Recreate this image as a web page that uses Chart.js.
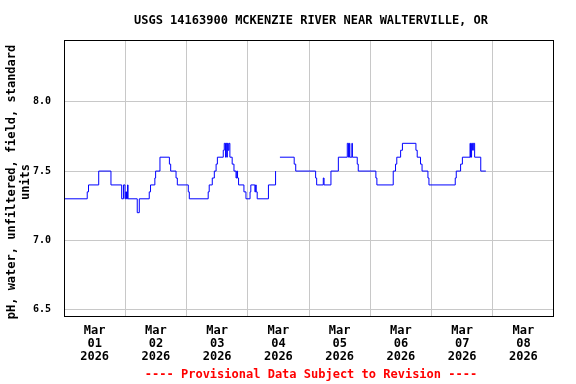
<!DOCTYPE html>
<html>
<head>
<meta charset="utf-8">
<script src="https://cdn.jsdelivr.net/npm/chart.js@4.4.1/dist/chart.umd.min.js"></script>
<style>
  html, body { margin: 0; padding: 0; background: #fff; }
</style>
</head>
<body>
<canvas id="chart" width="576" height="384"></canvas>
<script>
// Chart text
const titleText = 'USGS 14163900 MCKENZIE RIVER NEAR WALTERVILLE, OR';
const yTitleLines = ['pH, water, unfiltered, field, standard', 'units'];
const footerText = '---- Provisional Data Subject to Revision ----';

// X axis: hours since Mar 01 00:00, labels at noon, grid at midnight
const dayLabels = ['01', '02', '03', '04', '05', '06', '07', '08'];
const monthLabel = 'Mar';
const yearLabel = '2026';
const labelHours = [12, 36, 60, 84, 108, 132, 156, 180];
const gridHours = [24, 48, 72, 96, 120, 144, 168];

// Y axis ticks
const yTicks = [6.5, 7.0, 7.5, 8.0];

// pH readings (change points), hours since Mar 01 00:00; null = gap in record
const hours = [
  0, 9.1, 9.6, 13.6, 18.4, 22.6, 23.3, 23.9, 24.2, 24.5, 24.9, 25.1,
  28.7, 29.5, 33.4, 33.9, 35.6, 35.9, 37.6, 41.3, 41.8, 43.9, 44.4,
  48.7, 49.1, 56.5, 56.9, 58.1, 58.9, 59.6, 60.1, 62.4, 62.8, 63.3, 63.5,
  63.8, 64.0, 64.3, 64.6, 65.0, 65.9, 66.6, 67.4, 67.7, 68.0, 68.4,
  70.5, 71.3, 72.9, 73.2, 74.8, 75.1, 75.3, 75.7, 80.1, 82.9, 83.3,
  84.6, 90.2, 90.8, 98.6, 99.0, 101.6, 101.9, 104.6, 107.5, 111.0, 111.5,
  111.8, 112.0, 112.8, 113.0, 114.9, 115.3, 122.2, 122.6,
  129.0, 129.9, 130.4, 131.9, 132.6, 137.9, 138.4, 139.7, 140.3, 142.6, 143.0,
  153.3, 153.7, 155.4, 156.1, 159.1, 159.3, 159.7, 160.1, 160.4, 160.9, 163.3, 165.3
];
const ph = [
  7.3, 7.35, 7.4, 7.5, 7.4, 7.3, 7.4, 7.3, 7.35, 7.3, 7.4, 7.3,
  7.2, 7.3, 7.35, 7.4, 7.45, 7.5, 7.6, 7.55, 7.5, 7.45, 7.4,
  7.35, 7.3, 7.35, 7.4, 7.45, 7.5, 7.55, 7.6, 7.65, 7.7, 7.6, 7.7,
  7.6, 7.7, 7.65, 7.7, 7.6, 7.55, 7.5, 7.45, 7.5, 7.45, 7.4,
  7.35, 7.3, 7.35, 7.4, 7.35, 7.4, 7.35, 7.3, 7.4, 7.5, null,
  7.6, 7.55, 7.5, 7.45, 7.4, 7.45, 7.4, 7.5, 7.6, 7.7, 7.6,
  7.7, 7.6, 7.7, 7.6, 7.55, 7.5, 7.45, 7.4,
  7.5, 7.55, 7.6, 7.65, 7.7, 7.65, 7.6, 7.55, 7.5, 7.45, 7.4,
  7.45, 7.5, 7.55, 7.6, 7.7, 7.6, 7.7, 7.65, 7.7, 7.6, 7.5, 7.5
];

const FONT = '"DejaVu Sans Mono", monospace';

// Frame around plot plus title, y label and footer text
const decorPlugin = {
  id: 'decor',
  afterDraw(chart) {
    const ctx = chart.ctx;
    const a = chart.chartArea;
    ctx.save();
    ctx.strokeStyle = '#000';
    ctx.lineWidth = 1;
    ctx.strokeRect(a.left + 0.5, a.top + 0.5, a.right - a.left - 1, a.bottom - a.top);

    ctx.font = 'bold 12px ' + FONT;
    ctx.fillStyle = '#000';
    ctx.textAlign = 'center';
    ctx.textBaseline = 'middle';
    ctx.fillText(titleText, 311, 21);

    ctx.fillStyle = '#ff0000';
    ctx.fillText(footerText, 311, 375);

    ctx.fillStyle = '#000';
    ctx.translate(12, 182);
    ctx.rotate(-Math.PI / 2);
    ctx.fillText(yTitleLines[0], 0, 0);
    ctx.fillText(yTitleLines[1], 0, 14);
    ctx.restore();
  }
};

const points = hours.map((h, i) => ({ x: h, y: ph[i] }));

new Chart(document.getElementById('chart'), {
  type: 'line',
  data: {
    datasets: [{
      data: points,
      stepped: true,
      borderColor: '#0000ff',
      borderWidth: 1,
      pointRadius: 0,
      fill: false,
      spanGaps: false
    }]
  },
  options: {
    responsive: false,
    animation: false,
    layout: { padding: { left: 0, top: 40, right: 22, bottom: 0 } },
    plugins: {
      legend: { display: false },
      title: { display: false },
      tooltip: { enabled: false }
    },
    scales: {
      x: {
        type: 'linear',
        min: 0,
        max: 192,
        afterFit: (s) => { s.height = 68; },
        afterBuildTicks: (s) => {
          s.ticks = labelHours.concat(gridHours).sort((p, q) => p - q).map(v => ({ value: v }));
        },
        border: { display: false },
        grid: {
          drawTicks: false,
          color: (c) => gridHours.includes(c.tick && c.tick.value) ? '#c8c8c8' : 'rgba(0,0,0,0)'
        },
        ticks: {
          autoSkip: false,
          maxRotation: 0,
          padding: 8,
          color: '#000',
          font: { family: FONT, size: 12, weight: 'bold', lineHeight: '13px' },
          callback: (v) => {
            const i = labelHours.indexOf(v);
            return i < 0 ? '' : [monthLabel, dayLabels[i], yearLabel];
          }
        }
      },
      y: {
        type: 'linear',
        min: 6.455,
        max: 8.445,
        afterFit: (s) => { s.width = 64; },
        afterBuildTicks: (s) => { s.ticks = yTicks.map(v => ({ value: v })); },
        border: { display: false },
        grid: { drawTicks: false, color: '#c8c8c8' },
        ticks: {
          padding: 13,
          color: '#000',
          font: { family: FONT, size: 10, weight: 'bold' },
          callback: (v) => v.toFixed(1)
        }
      }
    }
  },
  plugins: [decorPlugin]
});
</script>
</body>
</html>
